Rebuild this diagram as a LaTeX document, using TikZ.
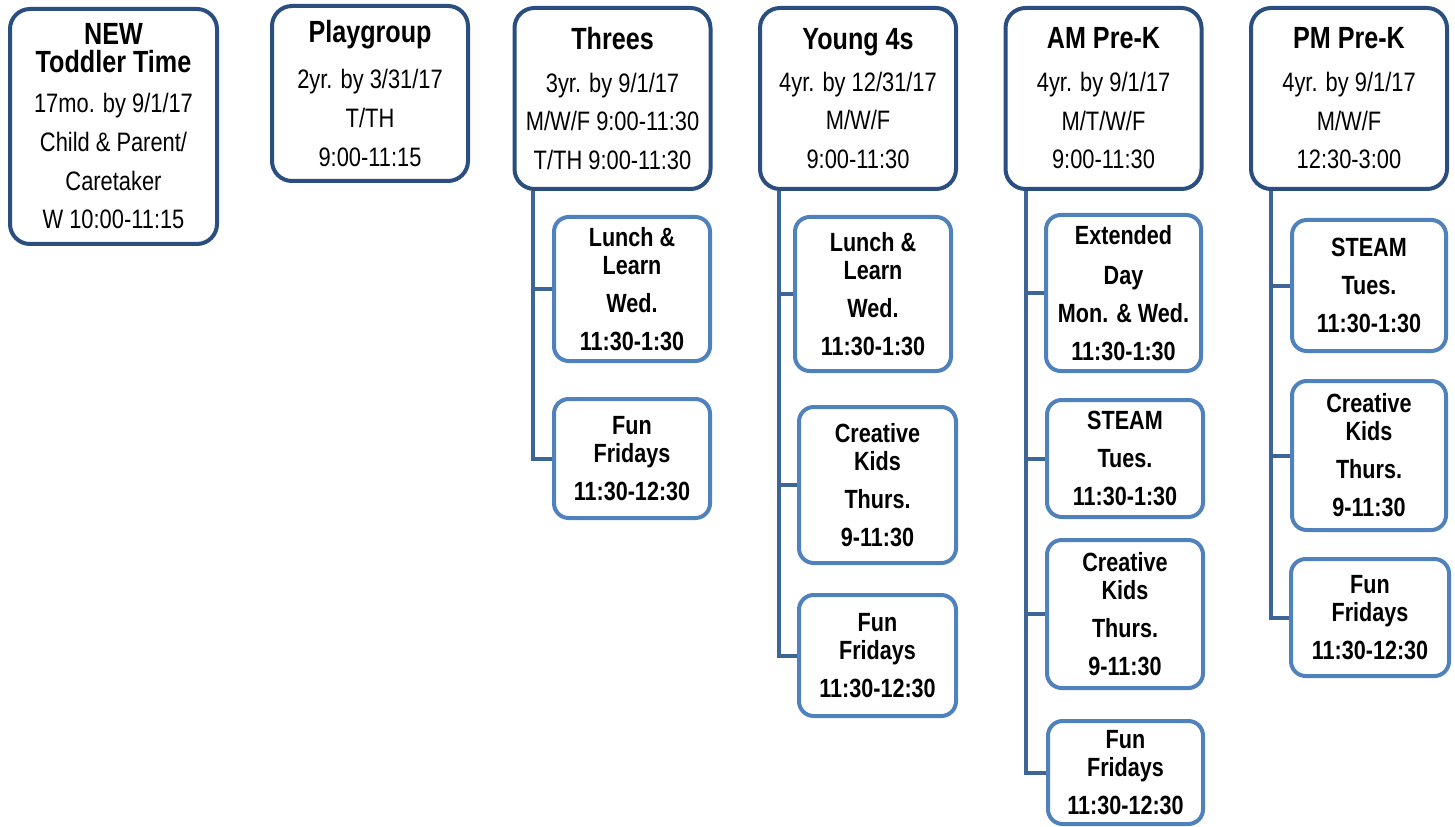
\documentclass[tikz,border=0pt]{standalone}
\usepackage{fontspec}
\setmainfont{Liberation Sans}[FakeStretch=0.82]
\usetikzlibrary{backgrounds}
\definecolor{topc}{HTML}{2A4E80}
\definecolor{subc}{HTML}{4F81BD}
\definecolor{linec}{HTML}{3E6597}
\newcommand\ttl{\fontsize{23}{29}\bfseries\selectfont}
\begin{document}
\begin{tikzpicture}[x=0.75pt,y=-0.75pt,
  topbox/.style={draw=topc, line width=3pt, rounded corners=15pt, fill=white, inner sep=0pt, align=center, font=\fontsize{20}{29}\selectfont},
  subbox/.style={draw=subc, line width=3pt, rounded corners=11pt, fill=white, inner sep=0pt, align=center, font=\fontsize{19.75}{28.5}\bfseries\selectfont},
  dims/.style 2 args={minimum width=#1*0.75pt, minimum height=#2*0.75pt},
  conn/.style={draw=linec, line width=3pt}]
\useasboundingbox (0,0) rectangle (1455,827);
% top row
\node[topbox, dims={207}{235}] (toddler) at (113.5,126.5) {{\ttl NEW}\\[-8pt]{\ttl Toddler Time}\\[1pt]17mo. by 9/1/17\\Child \& Parent/\\Caretaker\\W 10:00-11:15};
\node[topbox, dims={196}{175}] (play) at (370,93.5) {{\ttl Playgroup}\\[5.5pt]2yr. by 3/31/17\\T/TH\\9:00-11:15};
\node[topbox, dims={196}{181}] (threes) at (612.5,98.5) {{\ttl Threes}\\[3pt]3yr. by 9/1/17\\M/W/F 9:00-11:30\\T/TH 9:00-11:30};
\node[topbox, dims={196}{181}] (young) at (858,98.5) {{\ttl Young 4s}\\[2.5pt]4yr. by 12/31/17\\M/W/F\\9:00-11:30};
\node[topbox, dims={196}{181}] (am) at (1103.5,98.5) {{\ttl AM Pre-K}\\[3pt]4yr. by 9/1/17\\M/T/W/F\\9:00-11:30};
\node[topbox, dims={196}{181}] (pm) at (1349,98.5) {{\ttl PM Pre-K}\\[3pt]4yr. by 9/1/17\\M/W/F\\12:30-3:00};
% Threes children
\node[subbox, dims={156}{144}] (th1) at (632,289) {Lunch \&\\[-7.5pt]Learn\\Wed.\\11:30-1:30};
\node[subbox, dims={156}{119}] (th2) at (632,458.5) {Fun\\[-7.5pt]Fridays\\11:30-12:30};
% Young 4s children
\node[subbox, dims={156}{154}] (yo1) at (873,294) {Lunch \&\\[-7.5pt]Learn\\Wed.\\11:30-1:30};
\node[subbox, dims={157}{156}] (yo2) at (877.5,485) {Creative\\[-7.5pt]Kids\\Thurs.\\9-11:30};
\node[subbox, dims={157}{121}] (yo3) at (877.5,655.5) {Fun\\[-7.5pt]Fridays\\11:30-12:30};
% AM Pre-K children
\node[subbox, dims={155}{156}] (am1) at (1123.5,293) {Extended\\[1.5pt]Day\\Mon. \& Wed.\\11:30-1:30};
\node[subbox, dims={156}{117}] (am2) at (1125,458.5) {STEAM\\Tues.\\11:30-1:30};
\node[subbox, dims={156}{148}] (am3) at (1125,614) {Creative\\[-7.5pt]Kids\\Thurs.\\9-11:30};
\node[subbox, dims={155}{103}] (am4) at (1125.5,772.5) {Fun\\[-7.5pt]Fridays\\11:30-12:30};
% PM Pre-K children
\node[subbox, dims={154}{131}] (pm1) at (1369,285.5) {STEAM\\Tues.\\11:30-1:30};
\node[subbox, dims={154}{149}] (pm2) at (1369,455.5) {Creative\\[-7.5pt]Kids\\Thurs.\\9-11:30};
\node[subbox, dims={158}{117}] (pm3) at (1370,617.5) {Fun\\[-7.5pt]Fridays\\11:30-12:30};
% connectors
\begin{scope}[on background layer]
\foreach \c in {th1,th2} \draw[conn] ([xshift=15pt]threes.south west) |- (\c.west);
\foreach \c in {yo1,yo2,yo3} \draw[conn] ([xshift=15.75pt]young.south west) |- (\c.west);
\foreach \c in {am1,am2,am3,am4} \draw[conn] ([xshift=16.5pt]am.south west) |- (\c.west);
\foreach \c in {pm1,pm2,pm3} \draw[conn] ([xshift=16.5pt]pm.south west) |- (\c.west);
\end{scope}
\end{tikzpicture}
\end{document}
